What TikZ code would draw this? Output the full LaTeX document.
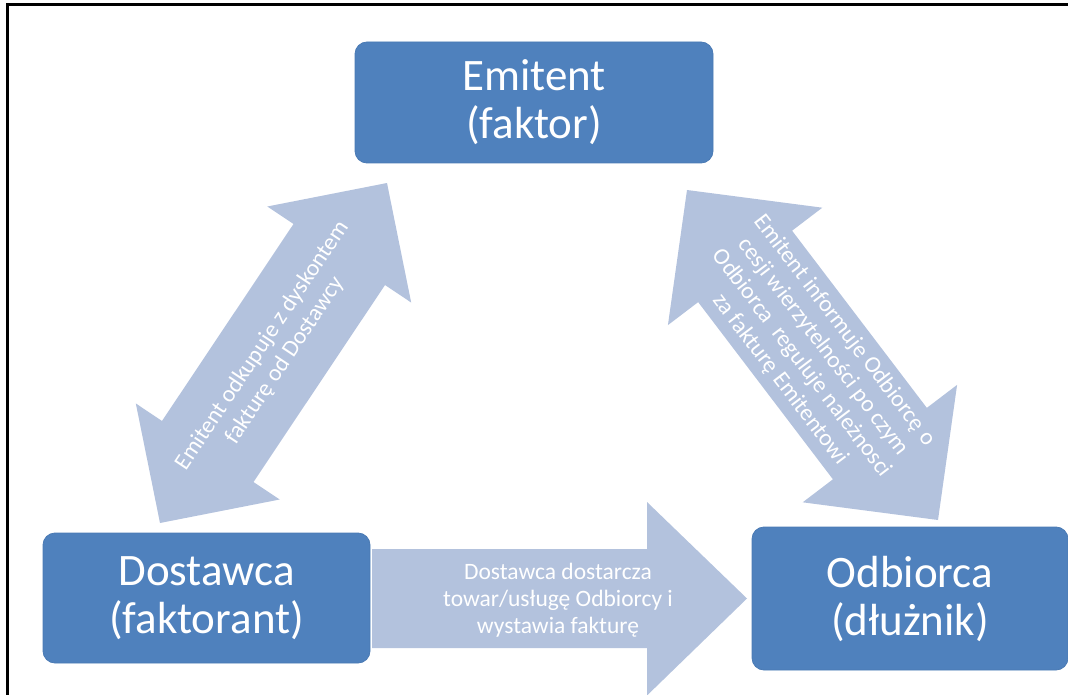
\documentclass[tikz,border=0pt]{standalone}
\usepackage{fontspec}
\setmainfont{Carlito}
\usetikzlibrary{calc}
\definecolor{boxblue}{RGB}{79,129,189}
\definecolor{boxedge}{RGB}{74,122,180}
\definecolor{arrowblue}{RGB}{179,194,221}
\newcommand{\dblockarrow}[5]{% A, B, shaft half, head half, head length
  \fill[arrowblue]
    (#1)
    -- ($($(#1)!#5!(#2)$)!#4!90:(#2)$)
    -- ($($(#1)!#5!(#2)$)!#3!90:(#2)$)
    -- ($($(#2)!#5!(#1)$)!#3!-90:(#1)$)
    -- ($($(#2)!#5!(#1)$)!#4!-90:(#1)$)
    -- (#2)
    -- ($($(#2)!#5!(#1)$)!#4!90:(#1)$)
    -- ($($(#2)!#5!(#1)$)!#3!90:(#1)$)
    -- ($($(#1)!#5!(#2)$)!#3!-90:(#2)$)
    -- ($($(#1)!#5!(#2)$)!#4!-90:(#2)$)
    -- cycle;}
\tikzset{
  entity/.style={fill=boxblue, draw=boxedge, line width=0.8pt, rounded corners=12pt,
    text=white, align=center, font=\fontsize{45}{48}\selectfont, inner sep=0pt},
  arrowtext/.style={text=white, align=center, font=\fontsize{23.5}{27}\selectfont, inner sep=0pt}
}
\begin{document}
\begin{tikzpicture}[x=1pt,y=-1pt]
\useasboundingbox (0,0) rectangle (1068,695);
\draw[line width=3pt] (7,697) -- (7,5) -- (1070,5);

% arrow end coordinates
\coordinate (la) at (160,523);
\coordinate (lb) at (387,183);
\coordinate (ra) at (687,190);
\coordinate (rb) at (938,520);
\coordinate (ba) at (372,598.5);
\coordinate (bt) at (747,598.5);

% left double arrow
\dblockarrow{la}{lb}{55pt}{86.5pt}{86pt}
% right double arrow
\dblockarrow{ra}{rb}{59pt}{97pt}{96pt}
% bottom single arrow
\fill[arrowblue] (ba) ++(0,-49.5) -- ++(275,0) -- ++(0,-47) -- (bt)
  -- ++(-100,97) -- ++(0,-47.5) -- ++(-275,0) -- cycle;

% boxes
\node[entity, minimum width=358pt, minimum height=121pt] (emit) at (534,102.5) {Emitent\\(faktor)};
\node[entity, minimum width=327pt, minimum height=130pt] (dost) at (206.5,598) {Dostawca\\(faktorant)};
\node[entity, minimum width=316pt, minimum height=143pt] (odb) at (910,598.5) {Odbiorca\\(dłużnik)};

% arrow texts
\node[arrowtext, rotate=56.3] (lt) at ($(la)!0.5!(lb)$) {Emitent odkupuje z dyskontem\\fakturę od Dostawcy};
\node[arrowtext, rotate=-52.7] (rt) at ($(ra)!0.5!(rb)$) {Emitent informuje Odbiorcę o\\cesji wierzytelności po czym\\Odbiorca\ \ reguluje należnosci\\za fakturę Emitentowi};
\node[arrowtext] (bt2) at (558,600) {Dostawca dostarcza\\towar/usługę Odbiorcy i\\wystawia fakturę};
\end{tikzpicture}
\end{document}
